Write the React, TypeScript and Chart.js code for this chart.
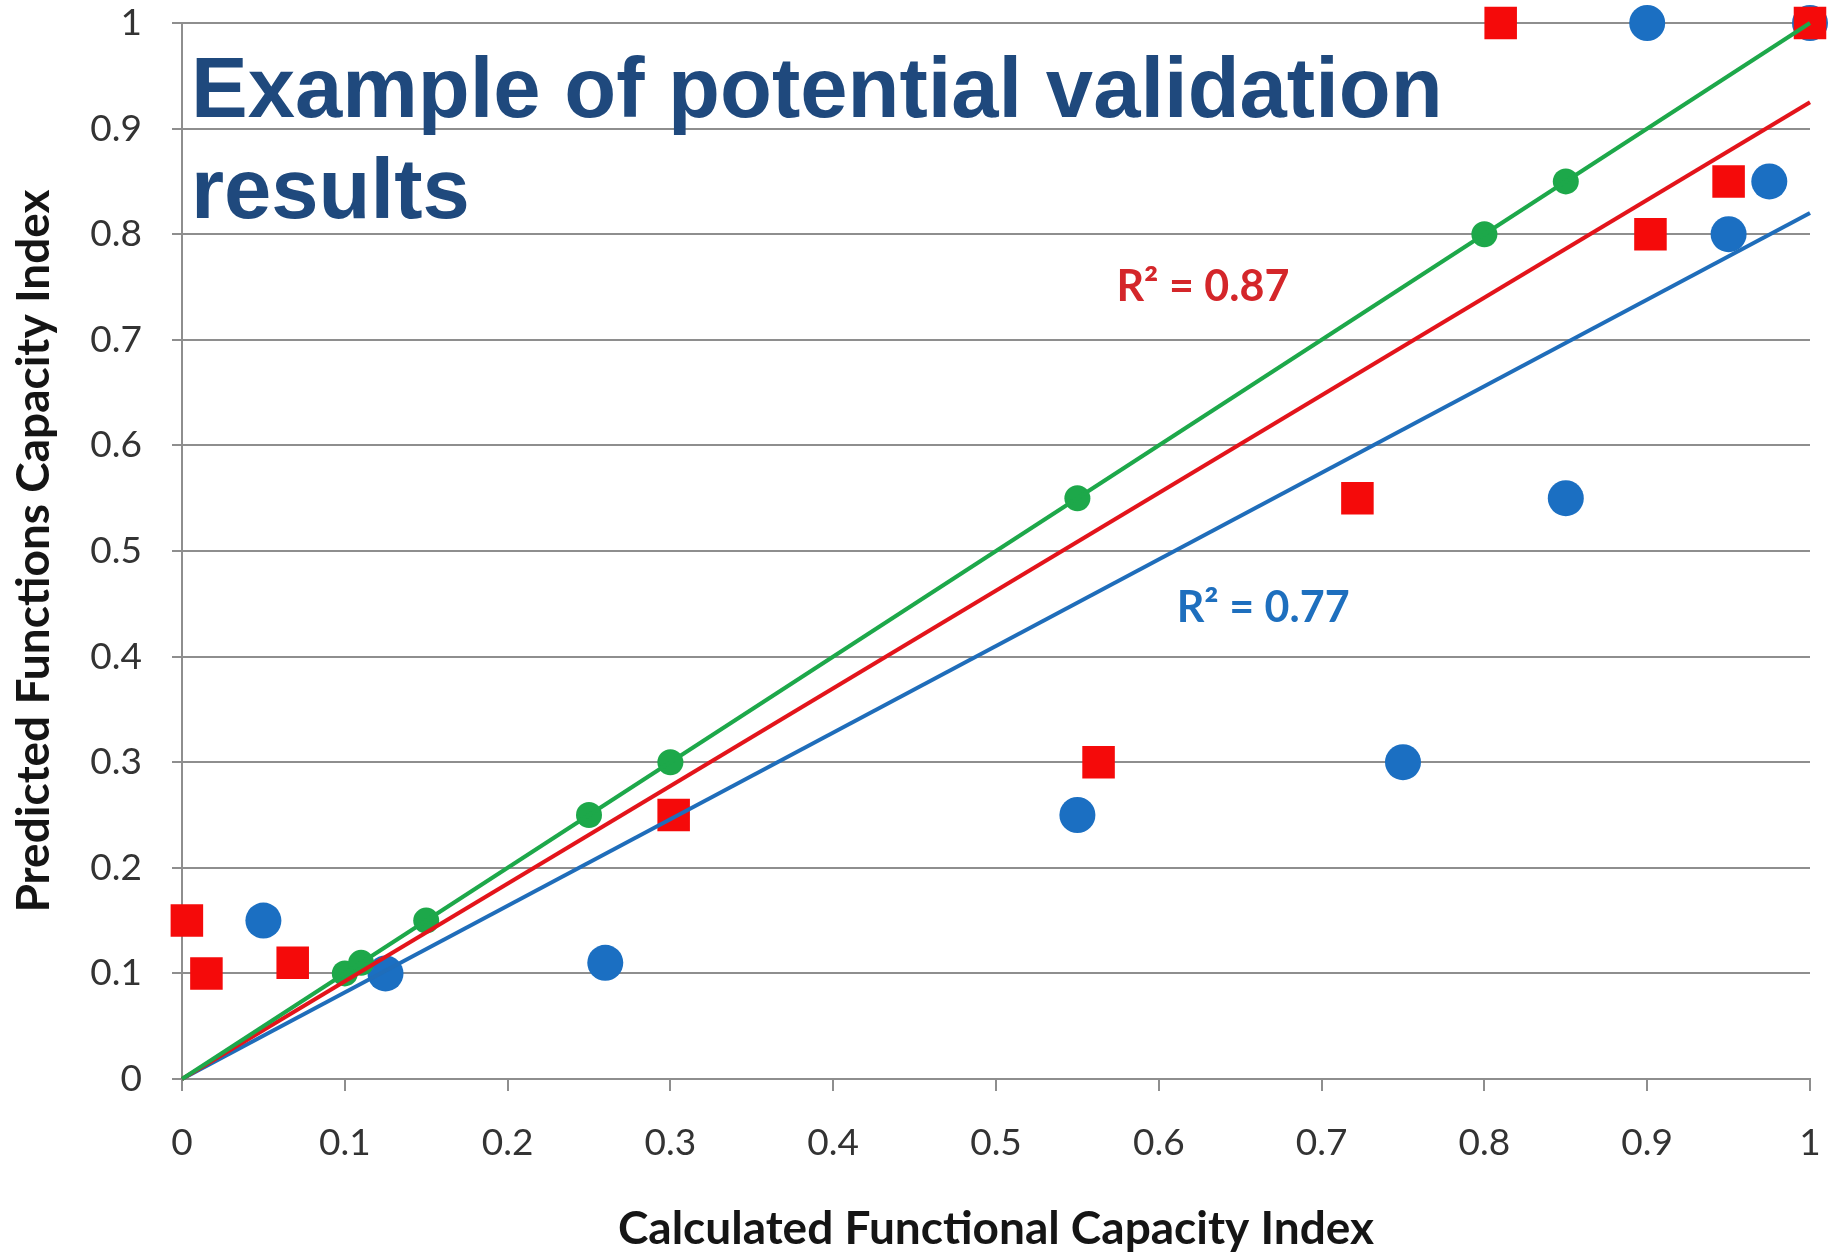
import React, { useEffect, useRef } from "react";
import { Chart, registerables } from "chart.js";

Chart.register(...registerables);

// ---- text ----
const titleLines = ["Example of potential validation", "results"];
const xAxisTitle = "Calculated Functional Capacity Index";
const yAxisTitle = "Predicted Functions Capacity Index";
const rSquaredRed = "R\u00B2 = 0.87";
const rSquaredBlue = "R\u00B2 = 0.77";

// ---- data ----
const blueX = [0.05, 0.125, 0.26, 0.55, 0.75, 0.85, 0.95, 0.975, 0.9, 1.0];
const blueY = [0.15, 0.1, 0.11, 0.25, 0.3, 0.55, 0.8, 0.85, 1.0, 1.0];

const redX = [0.003, 0.015, 0.068, 0.302, 0.563, 0.722, 0.902, 0.95, 0.81, 1.0];
const redY = [0.15, 0.1, 0.11, 0.25, 0.3, 0.55, 0.8, 0.85, 1.0, 1.0];

const greenX = [0.1, 0.11, 0.15, 0.25, 0.3, 0.55, 0.8, 0.85];
const greenY = [0.1, 0.11, 0.15, 0.25, 0.3, 0.55, 0.8, 0.85];

// trend lines (endpoints)
const trendX = [0, 1];
const greenTrendY = [0, 1];
const redTrendY = [0, 0.925];
const blueTrendY = [0, 0.82];

// label anchors (data coords)
const redLabelAt = [0.574, 0.75];
const blueLabelAt = [0.611, 0.446];

const zip = (xs: number[], ys: number[]) => xs.map((x, i) => ({ x, y: ys[i] }));

const BLUE = "#1B6FC2";
const RED = "#F50A0A";
const GREEN = "#1DA84A";
const GRID = "#8E8E8E";

export default function App() {
  const ref = useRef<HTMLCanvasElement>(null);

  useEffect(() => {
    const canvas = ref.current!;
    const overlay = {
      id: "overlay",
      afterDraw(chart: any) {
        const ctx = chart.ctx;
        const xs = chart.scales.x;
        const ys = chart.scales.y;
        ctx.save();
        ctx.textAlign = "left";
        ctx.textBaseline = "alphabetic";
        ctx.fillStyle = "#1F497D";
        ctx.font = 'bold 85px "Liberation Sans", Arial, sans-serif';
        const left = chart.chartArea.left + 9;
        ctx.fillText(titleLines[0], left, 117);
        ctx.fillText(titleLines[1], left, 218);

        ctx.textBaseline = "middle";
        ctx.font = 'bold 43px Lato, sans-serif';
        ctx.fillStyle = "#D4262A";
        ctx.fillText(rSquaredRed, xs.getPixelForValue(redLabelAt[0]), ys.getPixelForValue(redLabelAt[1]));
        ctx.fillStyle = "#1E6FBE";
        ctx.fillText(rSquaredBlue, xs.getPixelForValue(blueLabelAt[0]), ys.getPixelForValue(blueLabelAt[1]));
        ctx.restore();
      },
    };

    const chart = new Chart(canvas, {
      type: "scatter",
      data: {
        datasets: [
          {
            label: "green trend",
            data: zip(trendX, greenTrendY),
            showLine: true,
            borderColor: GREEN,
            borderWidth: 4,
            pointRadius: 0,
            clip: false,
          },
          {
            label: "red trend",
            data: zip(trendX, redTrendY),
            showLine: true,
            borderColor: "#E3141B",
            borderWidth: 4,
            pointRadius: 0,
            clip: false,
          },
          {
            label: "blue trend",
            data: zip(trendX, blueTrendY),
            showLine: true,
            borderColor: "#1F6DBA",
            borderWidth: 4,
            pointRadius: 0,
            clip: false,
          },
          {
            label: "red",
            data: zip(redX, redY),
            pointStyle: "rect",
            pointRadius: 23,
            backgroundColor: RED,
            borderWidth: 0,
            clip: false,
          },
          {
            label: "green",
            data: zip(greenX, greenY),
            pointRadius: 13,
            backgroundColor: GREEN,
            borderWidth: 0,
            clip: false,
          },
          {
            label: "blue",
            data: zip(blueX, blueY),
            pointRadius: 18,
            backgroundColor: BLUE,
            borderWidth: 0,
            clip: false,
          },
        ],
      },
      options: {
        animation: false,
        responsive: false,
        maintainAspectRatio: false,
        layout: { padding: { top: 23, right: 27, left: 0, bottom: 0 } },
        plugins: {
          legend: { display: false },
          tooltip: { enabled: false },
        },
        scales: {
          x: {
            type: "linear",
            min: 0,
            max: 1,
            ticks: {
              stepSize: 0.1,
              padding: 30,
              color: "#333333",
              font: { family: "Lato, sans-serif", size: 37 },
              callback: (v: any) => String(Number(Number(v).toFixed(1))),
            },
            grid: {
              drawOnChartArea: false,
              drawTicks: true,
              tickLength: 12,
              color: GRID,
              lineWidth: 2,
            },
            border: { display: true, color: GRID, width: 2 },
            title: {
              display: true,
              text: xAxisTitle,
              color: "#151515",
              font: { family: "Lato, sans-serif", size: 46, weight: "bold" },
              padding: { top: 0, bottom: 0 },
            },
            afterFit: (s: any) => {
              s.height = 178;
              s.paddingLeft = 0;
              s.paddingRight = 0;
            },
          },
          y: {
            type: "linear",
            min: 0,
            max: 1,
            ticks: {
              stepSize: 0.1,
              padding: 30,
              color: "#333333",
              font: { family: "Lato, sans-serif", size: 37 },
              callback: (v: any) => String(Number(Number(v).toFixed(1))),
            },
            grid: {
              drawTicks: true,
              tickLength: 10,
              color: GRID,
              lineWidth: 2,
            },
            border: { display: true, color: GRID, width: 2 },
            title: {
              display: true,
              text: yAxisTitle,
              color: "#151515",
              font: { family: "Lato, sans-serif", size: 46, weight: "bold" },
              padding: { top: 7, bottom: 0 },
            },
            afterFit: (s: any) => {
              s.width = 182;
              s.paddingTop = 0;
              s.paddingBottom = 0;
            },
          },
        },
      },
      plugins: [overlay],
    } as any);

    return () => chart.destroy();
  }, []);

  return (
    <div style={{ position: "fixed", left: 0, top: 0, width: 1837, height: 1257, background: "#fff" }}>
      <canvas ref={ref} width={1837} height={1257} style={{ width: 1837, height: 1257, display: "block" }} />
    </div>
  );
}
